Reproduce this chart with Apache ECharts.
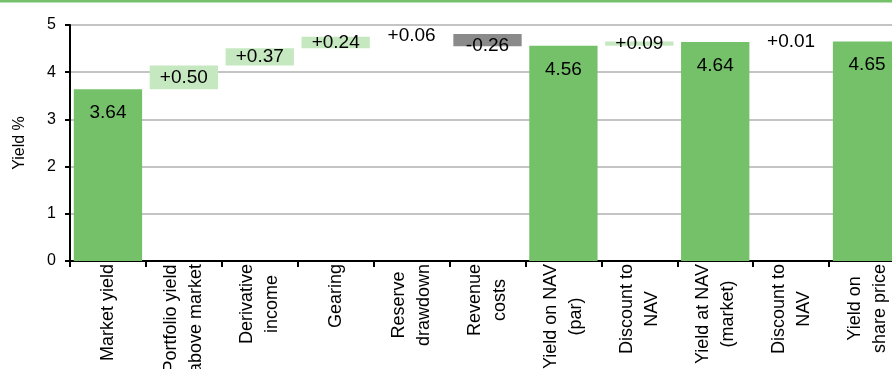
<!DOCTYPE html>
<html>
<head>
<meta charset="utf-8">
<script src="https://cdn.jsdelivr.net/npm/echarts@6/dist/echarts.min.js"></script>
<style>
  html, body { margin: 0; padding: 0; background: #fff; }
  #chart { width: 892px; height: 369px; }
</style>
</head>
<body>
<div id="chart"></div>
<script>
// bridge steps, left to right
const categories = [
  'Market yield',
  'Portfolio yield\nabove market',
  'Derivative\nincome',
  'Gearing',
  'Reserve\ndrawdown',
  'Revenue\ncosts',
  'Yield on NAV\n(par)',
  'Discount to\nNAV',
  'Yield at NAV\n(market)',
  'Discount to\nNAV',
  'Yield on\nshare price'
]
// full-height bars (null = step)
const totals = [3.64, null, null, null, null, null, 4.56, null, 4.64, null, 4.65]
// step changes (null = total)
const changes = [null, 0.50, 0.37, 0.24, 0.06, -0.26, null, 0.09, null, 0.01, null]
// steps drawn with a visible box
const showBar = [false, true, true, true, false, true, false, true, false, false, false]
const yTicks = [0, 1, 2, 3, 4, 5]

const GREEN = '#75c16a'
const LIGHT = '#c6e8c0'
const GREY = '#8a8a8a'
const FONT = '"Liberation Sans", Arial, sans-serif'

// running total -> invisible base + visible height
let running = 0
const baseData = []
const totalData = []
const stepData = []
categories.forEach((c, i) => {
  if (totals[i] != null) {
    running = totals[i]
    baseData.push(0)
    totalData.push(totals[i])
    stepData.push(null)
  } else {
    const d = changes[i]
    const lo = d < 0 ? running + d : running
    baseData.push(+lo.toFixed(2))
    totalData.push(null)
    let color = 'rgba(0,0,0,0)'
    if (showBar[i]) color = d < 0 ? GREY : LIGHT
    const item = { value: Math.abs(d), itemStyle: { color: color } }
    if (d < 0) item.label = { offset: [0, 6] }
    stepData.push(item)
    running += d
  }
})

const chart = echarts.init(document.getElementById('chart'))
const option = {
  animation: false,
  textStyle: { fontFamily: FONT },
  graphic: [{
    type: 'rect',
    left: 0,
    top: 0,
    shape: { width: 892, height: 2.5 },
    style: { fill: GREEN }
  }],
  grid: { left: 70, top: 25, bottom: 108, width: 835, containLabel: false, outerBoundsMode: 'none' },
  xAxis: {
    type: 'category',
    data: categories,
    axisLine: { lineStyle: { color: '#000', width: 2 } },
    axisTick: { show: true, length: 6, lineStyle: { color: '#000', width: 2 } },
    axisLabel: {
      interval: 0,
      rotate: 90,
      margin: 3,
      color: '#000',
      fontSize: 18,
      lineHeight: 25,
      formatter: v => v.split('\n').map(l => '{c|' + l + '}').join('\n'),
      rich: { c: { align: 'center', fontSize: 18, lineHeight: 25, color: '#000', fontFamily: FONT } }
    }
  },
  yAxis: {
    type: 'value',
    min: yTicks[0],
    max: yTicks[yTicks.length - 1],
    interval: 1,
    name: 'Yield %',
    nameLocation: 'middle',
    nameGap: 42,
    nameTextStyle: { color: '#000', fontSize: 16, fontFamily: FONT },
    axisLine: { show: true, lineStyle: { color: '#000', width: 2 } },
    axisTick: { show: true, length: 5, lineStyle: { color: '#000', width: 2 } },
    axisLabel: { color: '#000', fontSize: 16, margin: 14 },
    splitLine: { lineStyle: { color: '#c4c4c4', width: 2 } }
  },
  series: [
    {
      name: 'base',
      type: 'bar',
      stack: 'w',
      barCategoryGap: '10%',
      itemStyle: { color: 'rgba(0,0,0,0)' },
      silent: true,
      data: baseData
    },
    {
      name: 'total',
      type: 'bar',
      stack: 'w',
      itemStyle: { color: GREEN },
      label: {
        show: true,
        position: 'insideTop',
        distance: 14,
        color: '#000',
        fontSize: 19,
        formatter: p => p.value.toFixed(2)
      },
      data: totalData
    },
    {
      name: 'step',
      type: 'bar',
      stack: 'w',
      label: {
        show: true,
        position: 'inside',
        color: '#000',
        fontSize: 19,
        formatter: p => {
          const d = changes[p.dataIndex]
          return (d > 0 ? '+' : '') + d.toFixed(2)
        }
      },
      data: stepData
    }
  ]
}
chart.setOption(option)
</script>
</body>
</html>
